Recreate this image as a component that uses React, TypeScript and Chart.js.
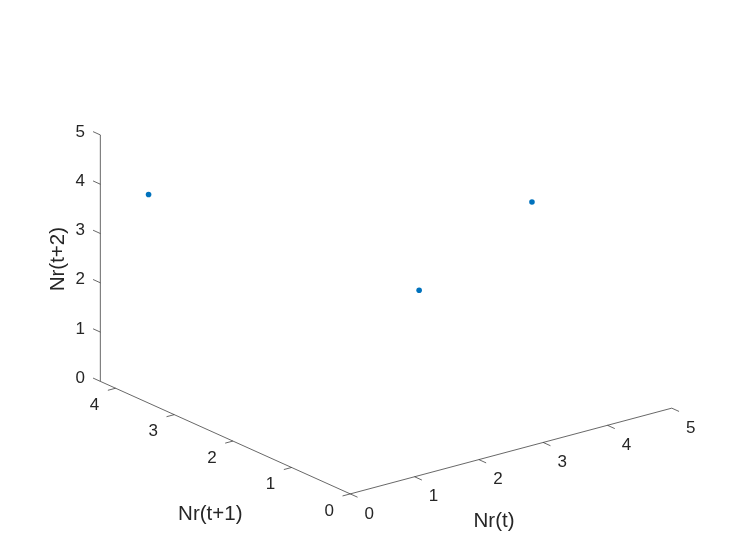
import React, { useEffect, useRef } from "react";
import { Chart, registerables } from "chart.js";

Chart.register(...registerables);

// 3D points: (Nr(t), Nr(t+1), Nr(t+2))
const nrT = [0.75, 3.51, 4.31];
const nrT1 = [4.26, 0.75, 3.55];
const nrT2 = [3.53, 4.3, 0.73];

const xTicks = [0, 1, 2, 3, 4, 5];
const yTicks = [0, 1, 2, 3, 4];
const zTicks = [0, 1, 2, 3, 4, 5];
const xLim = [0, 5];
const yLim = [0, 4.26];
const zLim = [0, 5];

const xTitle = "Nr(t)";
const yTitle = "Nr(t+1)";
const zTitle = "Nr(t+2)";

const W = 747;
const H = 560;

// orthographic view
const O = { X: 350, Y: 497 };
const EX = { X: 65, Y: -17.4 };
const EY = { X: -59.3, Y: -26.8 };
const EZ = { X: 0, Y: -50 };

function proj(x: number, y: number, z: number) {
  return {
    X: O.X + x * EX.X + y * EY.X + z * EZ.X,
    Y: O.Y + x * EX.Y + y * EY.Y + z * EZ.Y,
  };
}

function unit(v: { X: number; Y: number }) {
  const l = Math.hypot(v.X, v.Y);
  return { X: v.X / l, Y: v.Y / l };
}

const AXIS_COLOR = "#262626";
const FONT = "'Liberation Sans', Arial, Helvetica, sans-serif";

const axes3dPlugin = {
  id: "axes3d",
  beforeDatasetsDraw(chart: any) {
    const ctx = chart.ctx as CanvasRenderingContext2D;
    const sx = chart.scales.x;
    const sy = chart.scales.y;
    const px = (p: { X: number; Y: number }) => ({
      x: sx.getPixelForValue(p.X),
      y: sy.getPixelForValue(p.Y),
    });
    const line = (a: any, b: any) => {
      ctx.beginPath();
      ctx.moveTo(a.x, a.y);
      ctx.lineTo(b.x, b.y);
      ctx.stroke();
    };
    ctx.save();
    ctx.strokeStyle = AXIS_COLOR;
    ctx.lineWidth = 0.7;
    // axis lines
    line(px(proj(xLim[0], yLim[0], zLim[0])), px(proj(xLim[1], yLim[0], zLim[0])));
    line(px(proj(xLim[0], yLim[0], zLim[0])), px(proj(xLim[0], yLim[1], zLim[0])));
    line(px(proj(xLim[0], yLim[1], zLim[0])), px(proj(xLim[0], yLim[1], zLim[1])));

    const tickLen = 8;
    const uEX = unit(EX);
    const uEY = unit(EY);
    ctx.fillStyle = AXIS_COLOR;
    ctx.font = `17px ${FONT}`;
    ctx.textAlign = "center";
    ctx.textBaseline = "middle";

    // x ticks
    xTicks.forEach((t) => {
      const a = px(proj(t, yLim[0], zLim[0]));
      line(a, { x: a.x - uEY.X * tickLen, y: a.y - uEY.Y * tickLen });
      ctx.fillText(String(t), a.x + 19, a.y + 20);
    });
    // y ticks
    yTicks.forEach((t) => {
      const a = px(proj(xLim[0], t, zLim[0]));
      line(a, { x: a.x - uEX.X * tickLen, y: a.y - uEX.Y * tickLen });
      ctx.fillText(String(t), a.x - 21, a.y + 17);
    });
    // z ticks
    zTicks.forEach((t) => {
      const a = px(proj(xLim[0], yLim[1], t));
      line(a, { x: a.x + uEY.X * tickLen, y: a.y + uEY.Y * tickLen });
      ctx.fillText(String(t), a.x - 20, a.y - 3);
    });

    // titles
    ctx.font = `20.5px ${FONT}`;
    const xt = px(proj((xLim[0] + xLim[1]) / 2, yLim[0], zLim[0]));
    ctx.fillText(xTitle, xt.x - 17, xt.y + 70);
    const yt = px(proj(xLim[0], (yLim[0] + yLim[1]) / 2, zLim[0]));
    ctx.fillText(yTitle, yt.x - 15, yt.y + 77);
    const zt = px(proj(xLim[0], yLim[1], (zLim[0] + zLim[1]) / 2));
    ctx.save();
    ctx.translate(zt.x - 42, zt.y + 1);
    ctx.rotate(-Math.PI / 2);
    ctx.fillText(zTitle, 0, 0);
    ctx.restore();
    ctx.restore();
  },
};

export default function App() {
  const ref = useRef<HTMLCanvasElement | null>(null);
  useEffect(() => {
    if (!ref.current) return;
    const pts = nrT.map((x, i) => {
      const p = proj(x, nrT1[i], nrT2[i]);
      return { x: p.X, y: p.Y };
    });
    const chart = new Chart(ref.current, {
      type: "scatter",
      data: {
        datasets: [
          {
            data: pts,
            backgroundColor: "#0072BD",
            borderWidth: 0,
            pointRadius: 2.8,
          },
        ],
      },
      options: {
        animation: false,
        responsive: false,
        devicePixelRatio: 1,
        layout: { padding: 0 },
        plugins: { legend: { display: false }, tooltip: { enabled: false } },
        scales: {
          x: { type: "linear", min: 0, max: W, display: false },
          y: { type: "linear", min: 0, max: H, reverse: true, display: false },
        },
      },
      plugins: [axes3dPlugin],
    });
    return () => chart.destroy();
  }, []);
  return (
    <div style={{ position: "fixed", left: 0, top: 0, width: W, height: H, background: "#fff" }}>
      <canvas ref={ref} width={W} height={H} style={{ width: W, height: H }} />
    </div>
  );
}
